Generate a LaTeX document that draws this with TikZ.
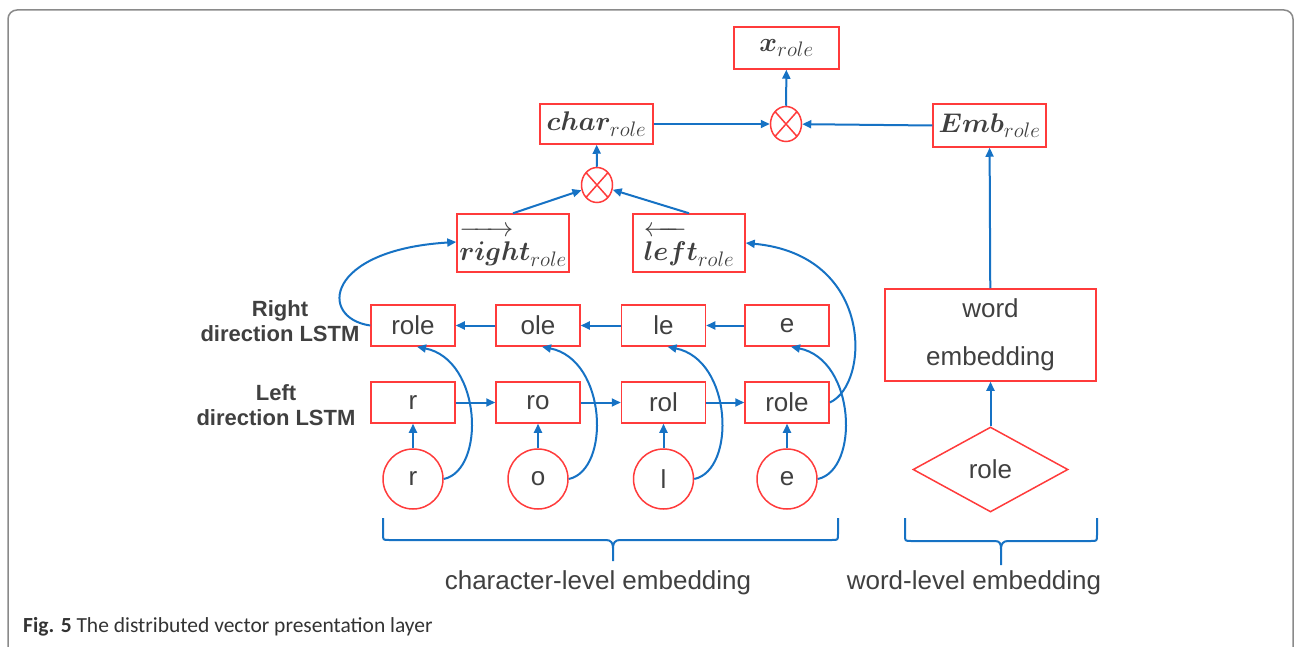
\RequirePackage{fix-cm}
\documentclass[tikz,border=0pt]{standalone}
\usepackage{amsmath,bm}
\usepackage{fontspec}
\setmainfont{Liberation Sans}
\newfontfamily\capfont{Carlito}
\usetikzlibrary{arrows.meta,shapes.geometric}
\DeclareMathSizes{27}{27}{21}{15}
\definecolor{boxred}{HTML}{FF3B3B}
\definecolor{arblue}{HTML}{1672C4}
\definecolor{txt}{HTML}{404040}
\definecolor{frame}{HTML}{8A8A8A}
\tikzset{
  bx/.style={draw=boxred, line width=1.5pt, inner sep=0pt, text=txt, font=\fontsize{26}{30}\selectfont},
  mbx/.style={bx, font=\fontsize{27}{30}\selectfont},
  cnode/.style={draw=boxred, line width=1.5pt, circle, minimum size=60pt, inner sep=0pt, text=txt, font=\fontsize{26}{30}\selectfont},
  ot/.style={draw=boxred, line width=1.5pt, ellipse, minimum width=31pt, minimum height=35pt, inner sep=0pt,
    path picture={\draw[boxred, line width=1.5pt] (path picture bounding box.north west) -- (path picture bounding box.south east)
      (path picture bounding box.north east) -- (path picture bounding box.south west);}},
  ar/.style={draw=arblue, line width=2pt, -{Triangle[length=9pt,width=8pt]}},
  br/.style={draw=arblue, line width=2pt},
  lbl/.style={text=txt, font=\bfseries\fontsize{22}{25}\selectfont, align=center},
  blbl/.style={text=txt, font=\fontsize{26}{30}\selectfont},
}
\begin{document}
\begin{tikzpicture}[x=1pt,y=-1pt]
\useasboundingbox (0,0) rectangle (1294,647);
\draw[frame, line width=1.5pt, rounded corners=9pt] (8,10) rectangle (1293,720);

% top part
\node[mbx, minimum width=105pt, minimum height=42pt] (x) at (786.5,48) {$\bm{x}_{role}$};
\node[ot] (o1) at (786,124) {};
\node[mbx, minimum width=113pt, minimum height=40pt] (char) at (596.5,124) {$\bm{char}_{role}$};
\node[mbx, minimum width=113pt, minimum height=43pt] (emb) at (989.5,125.5) {$\bm{Emb}_{role}$};
\node[ot] (o2) at (597,185) {};
\node[mbx, minimum width=112pt, minimum height=58pt] (rt) at (513,243) {\raisebox{-5pt}{\begin{tabular}{@{}l@{}}\makebox[54pt]{\rightarrowfill}\\[-6pt]$\bm{right}_{role}$\end{tabular}}};
\node[mbx, minimum width=112pt, minimum height=58pt] (lt) at (689,243) {\raisebox{-5pt}{\begin{tabular}{@{}l@{}}\makebox[43pt]{\leftarrowfill}\\[-6pt]$\bm{left}_{role}$\end{tabular}}};

% right direction LSTM row
\node[bx, minimum width=84pt, minimum height=41pt] (r1) at (413,325.5) {role};
\node[bx, minimum width=84pt, minimum height=41pt] (r2) at (538,325.5) {ole};
\node[bx, minimum width=84pt, minimum height=41pt] (r3) at (663.5,325.5) {le};
\node[bx, minimum width=84pt, minimum height=41pt] (r4) at (787,325.5) {e};
% left direction LSTM row
\node[bx, minimum width=84pt, minimum height=41pt] (l1) at (413,402.5) {r};
\node[bx, minimum width=84pt, minimum height=41pt] (l2) at (538,402.5) {ro};
\node[bx, minimum width=84pt, minimum height=41pt] (l3) at (663.5,402.5) {rol};
\node[bx, minimum width=84pt, minimum height=41pt] (l4) at (787,402.5) {role};
% characters
\node[cnode] (c1) at (413,479) {r};
\node[cnode] (c2) at (538,479) {o};
\node[cnode] (c3) at (663.5,479) {l};
\node[cnode] (c4) at (787,479) {e};

% labels
\node[lbl] (lr) at (280,321) {Right\\direction LSTM};
\node[lbl] (ll) at (276,405) {Left\\direction LSTM};

% word embedding side
\node[bx, minimum width=211pt, minimum height=92pt, align=center, font=\fontsize{26}{48}\selectfont] (we) at (990.5,335) {\raisebox{-3pt}{word}\\\raisebox{-3pt}{embedding}};
\node[draw=boxred, line width=1.5pt, diamond, minimum width=155pt, minimum height=85pt, inner sep=0pt, text=txt, font=\fontsize{26}{30}\selectfont] (dia) at (990.5,469.5) {role};

% connectors
\draw[ar] (o1) -- (x);
\draw[ar] (char) -- (o1);
\draw[ar] (emb.west) -- (o1);
\draw[ar] (o2) -- (char);
\draw[ar] (rt.north) -- (o2);
\draw[ar] (lt.north) -- (o2);
\draw[ar] (we) -- (emb);
\draw[ar] (dia) -- (we);

\foreach \i in {1,2,3,4} {
  \draw[ar] (c\i) -- (l\i);
  \draw[ar] (c\i.east) .. controls +(42,-9) and +(65,13) .. ([xshift=4pt]r\i.south);
}
\draw[ar] (l1) -- (l2);
\draw[ar] (l2) -- (l3);
\draw[ar] (l3) -- (l4);
\draw[ar] (r4) -- (r3);
\draw[ar] (r3) -- (r2);
\draw[ar] (r2) -- (r1);

\draw[ar] (r1.west) .. controls (318,318) and (325,250) .. ([yshift=1pt]rt.west);
\draw[ar] (l4.east) .. controls (870,385) and (875,255) .. (lt.east);

% braces
\draw[br] (383,518) -- (383,534) .. controls (383,540) .. (389,540) -- (606,540)
  .. controls (611,540) and (613,543) .. (613,548) -- (613,561);
\draw[br] (613,548) .. controls (613,543) and (615,540) .. (620,540) -- (832,540)
  .. controls (838,540) .. (838,534) -- (838,518);
\node[blbl] (cl) at (598,583) {character-level embedding};

\draw[br] (905,518) -- (905,535) .. controls (905,541) .. (911,541) -- (995,541)
  .. controls (1000,541) and (1001,544) .. (1001,549) -- (1001,565);
\draw[br] (1001,549) .. controls (1001,544) and (1003,541) .. (1008,541) -- (1091,541)
  .. controls (1097,541) .. (1097,535) -- (1097,518);
\node[blbl] (wl) at (974,583) {word-level embedding};

% caption
\node[anchor=west, text=txt!80!black, font=\capfont\fontsize{21.5}{24}\selectfont, inner sep=0pt] (cap) at (23,627) {\textbf{Fig. 5} The distributed vector presentation layer};
\end{tikzpicture}
\end{document}
